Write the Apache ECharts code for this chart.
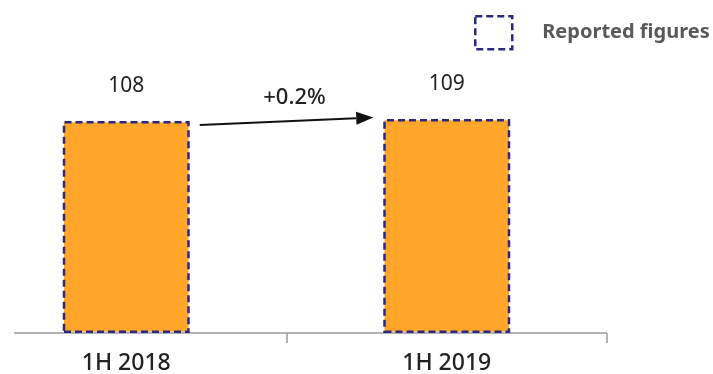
<!DOCTYPE html>
<html>
<head>
<meta charset="utf-8">
<script src="https://cdn.jsdelivr.net/npm/echarts@6/dist/echarts.min.js"></script>
<style>
html,body{margin:0;padding:0;background:#fff;}
#main{width:713px;height:374px;}
</style>
</head>
<body>
<div id="main"></div>
<script>
const categories = ['1H 2018', '1H 2019'];
const reportedValues = [108, 109];
const seriesName = 'Reported figures';
const changeLabel = '+0.2%';
const arrowFromValue = 106;
const arrowToValue = 109.7;

const chart = echarts.init(document.getElementById('main'));
const FONT = '"Noto Sans", sans-serif';
const BAR_W = 127;
const NAVY = '#2A2880';
const DASH = [7, 4];

chart.setOption({
  animation: false,
  backgroundColor: '#fff',
  legend: {
    data: [seriesName],
    left: 474,
    top: 15,
    padding: 0,
    itemWidth: 37,
    itemHeight: 33,
    icon: 'rect',
    itemStyle: {
      color: 'rgba(255,255,255,0)',
      borderColor: NAVY,
      borderWidth: 2.5,
      borderType: DASH
    },
    textStyle: {
      fontFamily: FONT,
      fontSize: 20,
      fontWeight: 'bold',
      color: '#595959',
      padding: [0, 0, 0, 25]
    }
  },
  grid: {
    left: -34,
    width: 641,
    top: 38.5,
    bottom: 41,
    outerBoundsMode: 'none',
    containLabel: false
  },
  xAxis: {
    type: 'category',
    data: categories,
    boundaryGap: true,
    axisLine: { show: false },
    axisTick: { show: true, length: 10, lineStyle: { color: '#9a9a9a', width: 1.5 } },
    axisLabel: {
      fontFamily: FONT,
      fontSize: 23,
      color: '#222',
      fontWeight: 500,
      margin: 19
    }
  },
  yAxis: {
    type: 'value',
    min: 0,
    max: 150,
    show: false,
    splitLine: { show: false }
  },
  series: [{
    name: seriesName,
    type: 'bar',
    data: reportedValues,
    barWidth: BAR_W,
    itemStyle: {
      color: '#FFA62B',
      borderColor: NAVY,
      borderWidth: 2.5,
      borderType: DASH
    },
    label: {
      show: true,
      position: 'top',
      distance: 24,
      fontFamily: FONT,
      fontSize: 21,
      color: '#222'
    }
  }]
});

// Positions derived from the chart's own scales
const c0 = chart.convertToPixel({ xAxisIndex: 0 }, categories[0]);
const c1 = chart.convertToPixel({ xAxisIndex: 0 }, categories[1]);
const yBase = chart.convertToPixel({ yAxisIndex: 0 }, 0);
const y0 = chart.convertToPixel({ yAxisIndex: 0 }, arrowFromValue);
const y1 = chart.convertToPixel({ yAxisIndex: 0 }, arrowToValue);
const catW = c1 - c0;
const axisStart = c0 - catW / 2 + 48;
const axisEnd = c1 + catW / 2;
const x0 = c0 + BAR_W / 2 + 10;
const x1 = c1 - BAR_W / 2 - 10;
const ang = Math.atan2(y1 - y0, x1 - x0);
const headLen = 17, headHalf = 6.5;
const bx = x1 - headLen * Math.cos(ang), by = y1 - headLen * Math.sin(ang);
const px = -Math.sin(ang), py = Math.cos(ang);

chart.setOption({
  graphic: [
    {
      type: 'line',
      z: 1,
      shape: { x1: axisStart, y1: yBase, x2: axisEnd, y2: yBase },
      style: { stroke: '#9a9a9a', lineWidth: 1.5 }
    },
    {
      type: 'line',
      shape: { x1: x0, y1: y0, x2: bx, y2: by },
      style: { stroke: '#111', lineWidth: 2 }
    },
    {
      type: 'polygon',
      shape: { points: [[x1, y1], [bx + px * headHalf, by + py * headHalf], [bx - px * headHalf, by - py * headHalf]] },
      style: { fill: '#111' }
    },
    {
      type: 'text',
      x: (x0 + x1) / 2 + 8,
      y: (y0 + y1) / 2 - 24,
      style: {
        text: changeLabel,
        fontFamily: FONT,
        fontSize: 22,
        fontWeight: 500,
        fill: '#222',
        align: 'center',
        verticalAlign: 'middle'
      }
    }
  ]
});
</script>
</body>
</html>
